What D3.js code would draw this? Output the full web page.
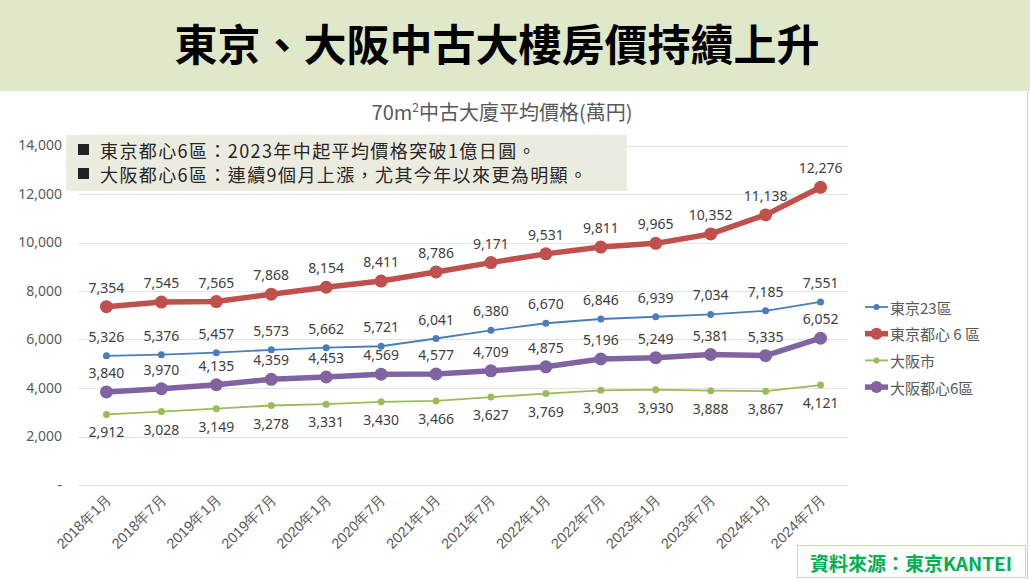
<!DOCTYPE html>
<html><head><meta charset="utf-8">
<script src="https://cdn.jsdelivr.net/npm/d3@7/dist/d3.min.js"></script>
<style>
html,body{margin:0;padding:0;background:#fff;}
svg{display:block;font-family:"Noto Sans CJK TC","Noto Sans",sans-serif;}
</style></head>
<body><svg id="c" width="1030" height="579"></svg>
<script>
const categories = ["2018年1月","2018年7月","2019年1月","2019年7月","2020年1月","2020年7月","2021年1月","2021年7月","2022年1月","2022年7月","2023年1月","2023年7月","2024年1月","2024年7月"];
const tokyo23 = [5326,5376,5457,5573,5662,5721,6041,6380,6670,6846,6939,7034,7185,7551];
const tokyo6 = [7354,7545,7565,7868,8154,8411,8786,9171,9531,9811,9965,10352,11138,12276];
const osakaCity = [2912,3028,3149,3278,3331,3430,3466,3627,3769,3903,3930,3888,3867,4121];
const osaka6 = [3840,3970,4135,4359,4453,4569,4577,4709,4875,5196,5249,5381,5335,6052];
const yTicks = [0,2000,4000,6000,8000,10000,12000,14000];
const seriesNames = ["東京23區","東京都心 6 區","大阪市","大阪都心6區"];
const title = "東京、大阪中古大樓房價持續上升";
const notes = ["東京都心6區：2023年中起平均價格突破1億日圓。","大阪都心6區：連續9個月上漲，尤其今年以來更為明顯。"];
const source = "資料來源：東京KANTEI";

const series = [
  {name:seriesNames[0], values:tokyo23, color:"#4a7ebb", w:1.8, r:3.5, pos:"above"},
  {name:seriesNames[1], values:tokyo6, color:"#c0504d", w:5.5, r:6.5, pos:"above"},
  {name:seriesNames[2], values:osakaCity, color:"#9bbb59", w:1.8, r:3.5, pos:"below"},
  {name:seriesNames[3], values:osaka6, color:"#8064a2", w:5.5, r:6.5, pos:"above"}
];

const svg = d3.select("#c");
// header
svg.append("rect").attr("x",0).attr("y",0).attr("width",1030).attr("height",91).attr("fill","#dfe8c8");
svg.append("text").attr("x",497).attr("y",42).attr("text-anchor","middle").attr("dominant-baseline","central")
  .attr("font-size",43).attr("font-weight","bold").attr("fill","#000").text(title);
svg.append("line").attr("x1",1027.5).attr("x2",1027.5).attr("y1",91).attr("y2",579).attr("stroke","#d0d0d0");

// subtitle
const sub = svg.append("text").attr("x",502).attr("y",120).attr("text-anchor","middle").attr("font-size",20).attr("fill","#595959");
sub.append("tspan").text("70m");
sub.append("tspan").attr("font-size",12).attr("dy",-8).text("2");
sub.append("tspan").attr("dy",8).text("中古大廈平均價格(萬円)");

const x = d3.scaleBand().domain(categories).range([79,848]);
const y = d3.scaleLinear().domain([0,14000]).range([485,145.5]);

// grid
svg.append("g").selectAll("line").data(yTicks).join("line")
  .attr("x1",79).attr("x2",848).attr("y1",d=>Math.round(y(d))+0.5).attr("y2",d=>Math.round(y(d))+0.5)
  .attr("stroke","#e3e3e3").attr("stroke-width",1.2);

// y axis
const yAxis = d3.axisLeft(y).tickValues(yTicks).tickSize(0).tickPadding(0)
  .tickFormat(d=> d===0 ? "-" : d3.format(",")(d));
const ya = svg.append("g").attr("transform","translate(62,0)").call(yAxis);
ya.select(".domain").remove();
ya.selectAll("text").attr("font-size",14).attr("fill","#595959").attr("font-family","'Noto Sans','Noto Sans CJK TC',sans-serif");

// x axis
const xAxis = d3.axisBottom(x).tickSize(0).tickPadding(0);
const xa = svg.append("g").attr("transform","translate(0,485)").call(xAxis);
xa.select(".domain").remove();
xa.selectAll("text").attr("font-size",14.5).attr("fill","#595959")
  .attr("text-anchor","end").attr("dy",0)
  .attr("transform","translate(6,15) rotate(-45)");

// annotation box
svg.append("rect").attr("x",66).attr("y",135).attr("width",561).attr("height",56).attr("fill","#ecebe0");
notes.forEach((t,i)=>{
  const yy = 150 + i*24;
  svg.append("rect").attr("x",78).attr("y",yy-6).attr("width",11).attr("height",11).attr("fill","#222");
  svg.append("text").attr("x",100).attr("y",yy).attr("dominant-baseline","central").attr("font-size",18)
    .attr("letter-spacing",1.4).attr("fill","#262626").text(t);
});

// lines
const line = d3.line().x((d,i)=>x(categories[i])+x.bandwidth()/2).y(d=>y(d));
series.forEach(s=>{
  const g = svg.append("g");
  g.append("path").datum(s.values).attr("d",line).attr("fill","none").attr("stroke",s.color)
    .attr("stroke-width",s.w).attr("stroke-linejoin","round").attr("stroke-linecap","round");
  g.selectAll("circle").data(s.values).join("circle")
    .attr("cx",(d,i)=>x(categories[i])+x.bandwidth()/2).attr("cy",d=>y(d)).attr("r",s.r).attr("fill",s.color);
  g.selectAll("text").data(s.values).join("text")
    .attr("x",(d,i)=>x(categories[i])+x.bandwidth()/2)
    .attr("y",d=> s.pos==="above" ? y(d)-14 : y(d)+23)
    .attr("text-anchor","middle").attr("font-size",14).attr("fill","#404040")
    .attr("font-family","'Noto Sans','Noto Sans CJK TC',sans-serif")
    .text(d=>d3.format(",")(d));
});

// legend
series.forEach((s,i)=>{
  const ly = 307 + i*26.7;
  const g = svg.append("g");
  g.append("line").attr("x1",865).attr("x2",888).attr("y1",ly).attr("y2",ly).attr("stroke",s.color).attr("stroke-width",s.w);
  g.append("circle").attr("cx",876.5).attr("cy",ly).attr("r",s.r-0.5).attr("fill",s.color);
  g.append("text").attr("x",890).attr("y",ly).attr("dominant-baseline","central").attr("font-size",15).attr("fill","#595959").text(s.name);
});

// source box
svg.append("rect").attr("x",797.5).attr("y",545.5).attr("width",228).attr("height",32).attr("fill","#fff").attr("stroke","#c4dea0").attr("stroke-width",1);
svg.append("text").attr("x",911).attr("y",562).attr("text-anchor","middle").attr("dominant-baseline","central")
  .attr("font-size",19).attr("font-weight","bold").attr("fill","#00b050").text(source);
</script></body></html>
